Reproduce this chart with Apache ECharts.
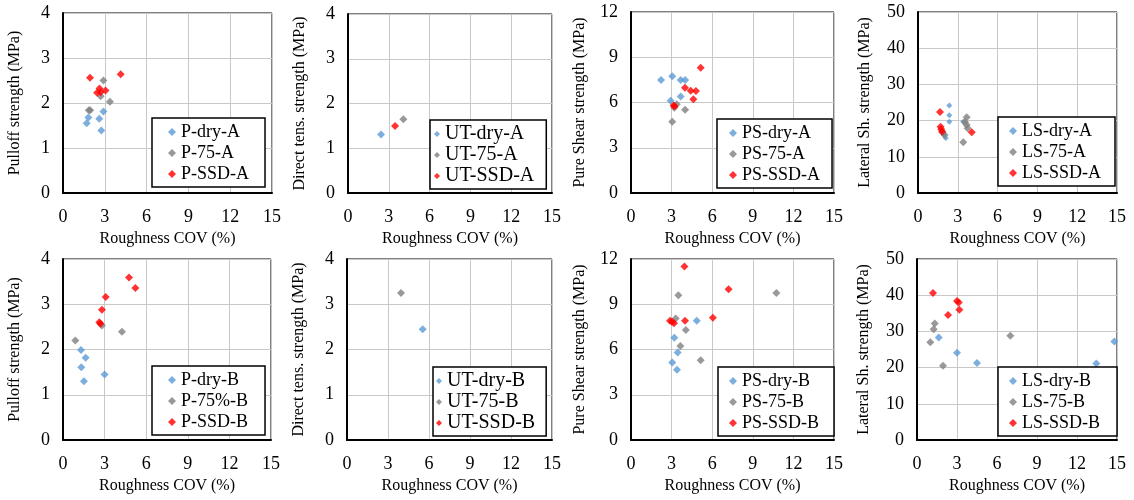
<!DOCTYPE html>
<html>
<head>
<meta charset="utf-8">
<script src="https://cdn.jsdelivr.net/npm/echarts@6/dist/echarts.min.js"></script>
<style>
  html, body { margin: 0; padding: 0; background: #fff; }
  #chart { width: 1134px; height: 500px; }
</style>
</head>
<body>
<div id="chart"></div>
<script>
// Roughness COV (%) vs. bond strength, eight test panels (type A top row, type B bottom row)
const xTicks = [0, 3, 6, 9, 12, 15];
const yRangeTension = [0, 4, 1];
const yRangePureShear = [0, 12, 3];
const yRangeLateral = [0, 50, 10];

// Pull-off, type A
const pDryA = [[1.7, 1.55], [1.82, 1.68], [2.6, 1.65], [2.9, 1.81], [2.75, 1.39]];
const p75A = [[1.85, 1.84], [1.95, 1.84], [2.9, 2.5], [2.7, 2.15], [3.37, 2.03]];
const pSsdA = [[1.94, 2.56], [4.14, 2.64], [2.62, 2.32], [2.45, 2.23], [2.7, 2.24], [3.05, 2.28]];

// Direct tension, type A
const utDryA = [[2.43, 1.31]];
const ut75A = [[4.07, 1.65]];
const utSsdA = [[3.46, 1.5]];

// Pure shear, type A
const psDryA = [[2.22, 7.49], [3.05, 7.74], [3.67, 7.49], [4.0, 7.49], [3.67, 6.39], [2.93, 6.12]];
const ps75A = [[3.38, 5.88], [3.2, 5.65], [4.0, 5.52], [3.05, 4.73]];
const psSsdA = [[5.15, 8.31], [3.99, 6.98], [4.41, 6.78], [4.8, 6.76], [4.61, 6.21], [3.15, 5.8], [3.22, 5.75]];

// Lateral shear, type A
const lsDryA = [[2.36, 24.2], [2.36, 21.5], [2.36, 19.7], [3.41, 19.7], [1.95, 16.2], [2.09, 15.2]];
const ls75A = [[3.67, 20.9], [3.54, 19.6], [3.67, 18.8], [3.74, 17.9], [3.41, 14.0], [1.85, 16.7], [2.0, 16.0]];
const lsSsdA = [[1.66, 22.4], [1.7, 18.3], [1.75, 17.6], [1.82, 17.0], [4.05, 16.8]];

// Pull-off, type B
const pDryB = [[1.3, 1.99], [1.63, 1.82], [1.32, 1.61], [1.51, 1.3], [3.0, 1.45]];
const p75B = [[2.81, 2.53], [4.25, 2.39], [0.89, 2.2]];
const pSsdB = [[4.76, 3.59], [5.22, 3.36], [3.08, 3.16], [2.81, 2.88], [2.62, 2.6], [2.7, 2.57]];

// Direct tension, type B
const utDryB = [[5.54, 2.45]];
const ut75B = [[3.95, 3.25]];
const utSsdB = [];

// Pure shear, type B
const psDryB = [[4.86, 7.9], [3.2, 6.78], [3.45, 5.8], [3.05, 5.13], [3.4, 4.66]];
const ps75B = [[3.5, 9.6], [10.74, 9.75], [3.3, 8.05], [4.05, 7.3], [3.65, 6.23], [5.15, 5.28]];
const psSsdB = [[3.95, 11.5], [7.21, 10.0], [6.05, 8.1], [3.99, 7.9], [2.88, 7.9], [3.03, 7.84], [3.18, 7.74]];

// Lateral shear, type B
const lsDryB = [[1.63, 28.3], [3.0, 24.1], [4.5, 21.3], [13.45, 21.1], [14.8, 27.2]];
const ls75B = [[1.33, 32.2], [1.25, 30.6], [1.0, 27.0], [7.0, 28.8], [1.95, 20.5]];
const lsSsdB = [[1.2, 40.6], [3.0, 38.4], [3.13, 38.0], [3.18, 36.0], [2.33, 34.5]];

const COLORS = { dry: '#5b9bd5', mid: '#7f7f7f', ssd: '#ff0000' };
const FONT = '"Liberation Serif", "Times New Roman", serif';
const X_NAME = 'Roughness COV (%)';
// square-aspect diamond so legend icons are not stretched to the row height
const DIAMOND = 'path://M1,0L2,1L1,2L0,1Z';

const panels = [
  { grid: [63, 13, 209, 180], yName: 'Pulloff strength (MPa)', yRange: yRangeTension, nameGap: 40,
    series: [['P-dry-A', pDryA, 'dry'], ['P-75-A', p75A, 'mid'], ['P-SSD-A', pSsdA, 'ssd']],
    legend: { left: 152, top: 118, pad: [5, 16, 4, 16], icon: 8, font: 18, gap: 3 } },
  { grid: [348, 14, 204, 179], yName: 'Direct tens. strength (MPa)', yRange: yRangeTension, nameGap: 40,
    series: [['UT-dry-A', utDryA, 'dry'], ['UT-75-A', ut75A, 'mid'], ['UT-SSD-A', utSsdA, 'ssd']],
    legend: { left: 430, top: 120, pad: [4, 12, 3, 4], icon: 6, font: 20, gap: 1 } },
  { grid: [631, 12, 203, 181], yName: 'Pure Shear strength (MPa)', yRange: yRangePureShear, nameGap: 43,
    series: [['PS-dry-A', psDryA, 'dry'], ['PS-75-A', ps75A, 'mid'], ['PS-SSD-A', psSsdA, 'ssd']],
    legend: { left: 717, top: 119, pad: [5, 12, 4, 12], icon: 8, font: 18, gap: 3 } },
  { grid: [918, 12, 199, 181], yName: 'Lateral Sh. strength (MPa)', yRange: yRangeLateral, nameGap: 45,
    series: [['LS-dry-A', lsDryA, 'dry', 6], ['LS-75-A', ls75A, 'mid'], ['LS-SSD-A', lsSsdA, 'ssd']],
    legend: { left: 998, top: 117, pad: [5, 14, 4, 11], icon: 8, font: 18, gap: 3 } },
  { grid: [63, 259, 208, 181], yName: 'Pulloff strength (MPa)', yRange: yRangeTension, nameGap: 40,
    series: [['P-dry-B', pDryB, 'dry'], ['P-75%-B', p75B, 'mid'], ['P-SSD-B', pSsdB, 'ssd']],
    legend: { left: 152, top: 366, pad: [5, 17, 4, 16], icon: 8, font: 18, gap: 3 } },
  { grid: [347, 259, 205, 181], yName: 'Direct tens. strength (MPa)', yRange: yRangeTension, nameGap: 40,
    series: [['UT-dry-B', utDryB, 'dry'], ['UT-75-B', ut75B, 'mid'], ['UT-SSD-B', utSsdB, 'ssd']],
    legend: { left: 433, top: 367, pad: [4, 11, 3, 3], icon: 6, font: 20, gap: 1 } },
  { grid: [631, 259, 203, 181], yName: 'Pure Shear strength (MPa)', yRange: yRangePureShear, nameGap: 43,
    series: [['PS-dry-B', psDryB, 'dry'], ['PS-75-B', ps75B, 'mid'], ['PS-SSD-B', psSsdB, 'ssd']],
    legend: { left: 718, top: 367, pad: [5, 15, 4, 11], icon: 8, font: 18, gap: 3 } },
  { grid: [917, 259, 200, 181], yName: 'Lateral Sh. strength (MPa)', yRange: yRangeLateral, nameGap: 45,
    series: [['LS-dry-B', lsDryB, 'dry'], ['LS-75-B', ls75B, 'mid'], ['LS-SSD-B', lsSsdB, 'ssd']],
    legend: { left: 998, top: 367, pad: [5, 17, 4, 11], icon: 8, font: 18, gap: 3 } }
];

const option = {
  animation: false,
  backgroundColor: '#fff',
  textStyle: { fontFamily: FONT, color: '#000' },
  grid: [], xAxis: [], yAxis: [], series: [], legend: []
};

panels.forEach((p, i) => {
  const [left, top, width, height] = p.grid;
  option.grid.push({ left, top, width, height, show: true, borderColor: '#000', borderWidth: 1, backgroundColor: 'transparent' });
  option.xAxis.push({
    type: 'value', gridIndex: i,
    min: xTicks[0], max: xTicks[xTicks.length - 1], interval: xTicks[1] - xTicks[0],
    name: X_NAME, nameLocation: 'middle', nameGap: 38,
    nameTextStyle: { fontFamily: FONT, fontSize: 16, color: '#000' },
    axisLine: { show: true, onZero: false, lineStyle: { color: '#000', width: 2 } },
    axisTick: { show: false },
    axisLabel: { fontFamily: FONT, fontSize: 18, color: '#000', margin: 15 },
    splitLine: { show: true, lineStyle: { color: '#c8c8c8', width: 1 } }
  });
  option.yAxis.push({
    type: 'value', gridIndex: i,
    min: p.yRange[0], max: p.yRange[1], interval: p.yRange[2],
    name: p.yName, nameLocation: 'middle', nameRotate: 90, nameGap: p.nameGap,
    nameTextStyle: { fontFamily: FONT, fontSize: 16, color: '#000' },
    axisLine: { show: true, onZero: false, lineStyle: { color: '#000', width: 2 } },
    axisTick: { show: false },
    axisLabel: { fontFamily: FONT, fontSize: 18, color: '#000', margin: 13 },
    splitLine: { show: true, lineStyle: { color: '#c8c8c8', width: 1 } }
  });
  p.series.forEach(([name, data, kind, size]) => {
    option.series.push({
      type: 'scatter', name, data, xAxisIndex: i, yAxisIndex: i,
      symbol: 'diamond', symbolSize: size || 8,
      itemStyle: { color: COLORS[kind] }
    });
  });
  const L = p.legend;
  option.legend.push({
    data: p.series.map(s => s[0]),
    orient: 'vertical', left: L.left, top: L.top, padding: L.pad,
    itemWidth: L.icon, itemHeight: 14, itemGap: L.gap,
    icon: DIAMOND, symbolKeepAspect: true,
    selectedMode: false,
    backgroundColor: '#fff', borderColor: '#000', borderWidth: 1.5,
    textStyle: { fontFamily: FONT, fontSize: L.font, color: '#000' }
  });
});

const chart = echarts.init(document.getElementById('chart'), null, { renderer: 'canvas' });
chart.setOption(option);
</script>
</body>
</html>
